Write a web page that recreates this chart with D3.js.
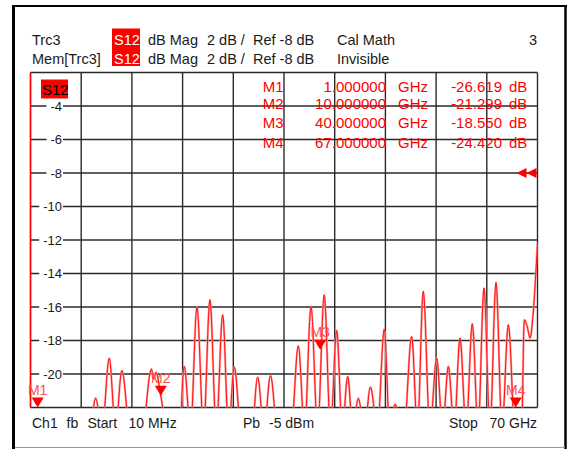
<!DOCTYPE html>
<html><head><meta charset="utf-8">
<script src="https://cdn.jsdelivr.net/npm/d3@7"></script>
<style>html,body{margin:0;padding:0;background:#fff;}svg{display:block;font-family:"Liberation Sans",Arial,sans-serif;}</style>
</head><body>
<svg id="c" width="569" height="449"></svg>
<script>
// ---------- data ----------
const startGHz = 0.01, stopGHz = 70;
const refDb = -8, dbPerDiv = 2;
const yMinDb = -22, yMaxDb = -2;
const yTickValues = [-4, -6, -8, -10, -12, -14, -16, -18, -20];
const traceGHz = [0.01, 1.0, 3.0, 5.0, 7.0, 8.3, 9.0, 9.9, 10.88, 11.75, 12.62, 13.6, 14.5, 15.6, 16.71, 17.0, 17.33, 18.0, 18.8,
  20.3, 21.23, 22.1, 22.99, 23.9, 24.78, 25.66, 26.54, 27.35, 28.14, 29.0, 30.2, 31.37, 32.25, 33.14, 34.0, 35.1, 36.1,
  36.98, 37.85, 38.73, 39.65, 40.56, 41.42, 42.28, 43.05, 43.8, 44.5, 45.26, 46.1, 46.94, 47.9, 48.85, 49.6, 50.33, 51.5,
  52.63, 53.43, 54.23, 55.15, 56.08, 56.9, 57.69, 58.5, 59.3, 60.15, 61.0, 61.8, 62.61, 63.44, 64.27, 65.1, 65.97, 67.0,
  67.8, 68.18, 68.6, 68.97, 69.38, 69.7, 70.0];
const traceDb = [-27, -26.6, -28, -27, -26, -23.5, -21.44, -23.3, -19.06, -23.3, -19.79, -23.5, -27, -23.5, -19.7, -20.3, -19.9, -21.3, -23.5,
  -26, -19.55, -23.3, -16.0, -23.3, -15.57, -23.3, -16.47, -23.3, -19.59, -23.5, -26, -20.19, -23.3, -20.1, -23.5, -27, -23.5,
  -18.32, -23.3, -15.97, -23.3, -15.27, -23.3, -17.4, -23.3, -20.15, -23.3, -21.44, -23.3, -20.78, -23.3, -17.32, -23.3, -21.8, -23.8,
  -17.76, -23.3, -15.07, -23.3, -19.05, -23.3, -19.55, -23.3, -17.86, -23.3, -17.0, -23.3, -14.87, -23.3, -14.54, -23.3, -17.06, -24.42,
  -23.5, -16.76, -17.2, -17.86, -16.5, -14.5, -12.19];
const markerNames = ["M1", "M2", "M3", "M4"];
const markerFreqText = ["1.000000", "10.000000", "40.000000", "67.000000"];
const markerDb = [-26.619, -21.299, -18.550, -24.420];
const markerPlotGHz = [1.0, 18.0, 40.0, 67.0];

// ---------- layout ----------
const svg = d3.select("#c");
const PL = 30.5, PR = 537.5, PT = 72.5, PB = 407.5;
const x = d3.scaleLinear().domain([startGHz, stopGHz]).range([PL, PR]);
const y = d3.scaleLinear().domain([yMinDb, yMaxDb]).range([PB, PT]);
const ink = "#1a1a1a", red = "#ff0000";

// outer window frame
svg.append("rect").attr("x", 0).attr("y", 0).attr("width", 569).attr("height", 449).attr("fill", "#fff");
svg.append("line").attr("x1", 12).attr("x2", 567).attr("y1", 6).attr("y2", 6).attr("stroke", "#000").attr("stroke-width", 2);
svg.append("line").attr("x1", 13.5).attr("x2", 13.5).attr("y1", 5).attr("y2", 449).attr("stroke", "#000").attr("stroke-width", 3);
svg.append("line").attr("x1", 565.5).attr("x2", 565.5).attr("y1", 5).attr("y2", 449).attr("stroke", "#000").attr("stroke-width", 2.5);
svg.append("line").attr("x1", 15).attr("x2", 565).attr("y1", 447.5).attr("y2", 447.5).attr("stroke", "#999").attr("stroke-width", 1);

// header
svg.append("rect").attr("x", 112).attr("y", 28.5).attr("width", 28).attr("height", 37.5).attr("fill", red);
const hdr = svg.append("g").attr("font-size", 14.5).attr("fill", ink);
const rows = [45, 63.5];
hdr.append("text").attr("x", 32).attr("y", rows[0]).text("Trc3");
hdr.append("text").attr("x", 32).attr("y", rows[1]).text("Mem[Trc3]");
rows.forEach((r, i) => {
  hdr.append("text").attr("x", 114).attr("y", r).attr("fill", "#fff").text("S12");
  hdr.append("text").attr("x", 148).attr("y", r).text("dB Mag");
  hdr.append("text").attr("x", 207).attr("y", r).text("2 dB /");
  hdr.append("text").attr("x", 253).attr("y", r).text("Ref -8 dB");
  hdr.append("text").attr("x", 337).attr("y", r).text(i === 0 ? "Cal Math" : "Invisible");
});
hdr.append("text").attr("x", 537).attr("y", rows[0]).attr("text-anchor", "end").text("3");

// grid
const grid = svg.append("g").attr("stroke", "#2a2a2a").attr("stroke-width", 1.4);
d3.range(11).forEach(i => {
  const f = startGHz + i * (stopGHz - startGHz) / 10;
  grid.append("line").attr("x1", x(f)).attr("x2", x(f)).attr("y1", PT).attr("y2", PB);
});
d3.range(yMinDb, yMaxDb + 0.001, dbPerDiv).forEach(v => {
  grid.append("line").attr("x1", PL).attr("x2", PR).attr("y1", y(v)).attr("y2", y(v));
});
svg.append("line").attr("x1", PL).attr("x2", PL).attr("y1", PT).attr("y2", PB).attr("stroke", red).attr("stroke-width", 1.3);

// y labels
const yl = svg.append("g").attr("font-size", 13).attr("fill", ink);
yTickValues.forEach(v => {
  const t = yl.append("text").attr("x", 62).attr("y", y(v) + 4.6).attr("text-anchor", "end").text(v);
  const w = t.node().getComputedTextLength();
  yl.insert("rect", "text").attr("x", 62 - w - 4).attr("y", y(v) - 6).attr("width", w + 5).attr("height", 12).attr("fill", "#fff");
});

// S12 tag in plot
svg.append("rect").attr("x", 41).attr("y", 79.5).attr("width", 27).attr("height", 19).attr("fill", red);
svg.append("text").attr("x", 42).attr("y", 94.5).attr("font-size", 15).attr("fill", "#000").text("S12");

// trace
svg.append("clipPath").attr("id", "clip").append("rect").attr("x", PL).attr("y", PT).attr("width", PR - PL).attr("height", PB - PT);
const pts = traceGHz.map((f, i) => [f, traceDb[i]]);
const line = d3.line().x(d => x(d[0])).y(d => y(d[1])).curve(d3.curveMonotoneX);
const tg = svg.append("g").attr("clip-path", "url(#clip)");
tg.append("path").attr("d", line(pts)).attr("fill", "none").attr("stroke", "#ff9a9a").attr("stroke-width", 2.2);
tg.append("path").attr("d", line(pts)).attr("fill", "none").attr("stroke", red).attr("stroke-width", 0.9);

// markers on trace
const mg = svg.append("g").attr("fill", red);
markerNames.forEach((m, i) => {
  const mx = x(markerPlotGHz[i]);
  const my = Math.min(y(markerDb[i]), PB);
  mg.append("path").attr("d", `M${mx - 6},${my - 10}L${mx + 6},${my - 10}L${mx},${my}Z`);
  mg.append("text").attr("x", mx).attr("y", my - 13).attr("text-anchor", "middle").attr("font-size", 14)
    .attr("fill", "#ff5050").text(m);
});

// marker table
const mt = svg.append("g").attr("font-size", 15).attr("fill", red);
const tRows = [91.5, 108.5, 128, 148];
markerNames.forEach((m, i) => {
  mt.append("text").attr("x", 283.5).attr("y", tRows[i]).attr("text-anchor", "end").text(m);
  mt.append("text").attr("x", 386).attr("y", tRows[i]).attr("text-anchor", "end").text(markerFreqText[i]);
  mt.append("text").attr("x", 398).attr("y", tRows[i]).text("GHz");
  mt.append("text").attr("x", 502).attr("y", tRows[i]).attr("text-anchor", "end").text(markerDb[i].toFixed(3));
  mt.append("text").attr("x", 509).attr("y", tRows[i]).text("dB");
});

// reference arrow
const ry = y(refDb);
svg.append("path").attr("fill", red)
  .attr("d", `M${PR - 21},${ry}L${PR - 11},${ry - 5}L${PR - 11},${ry + 5}Z M${PR - 11},${ry}L${PR - 1},${ry - 5}L${PR - 1},${ry + 5}Z`);

// footer
const ft = svg.append("g").attr("font-size", 14).attr("fill", ink);
ft.append("text").attr("x", 32).attr("y", 428).text("Ch1");
ft.append("text").attr("x", 66.5).attr("y", 428).text("fb");
ft.append("text").attr("x", 87.5).attr("y", 428).text("Start");
ft.append("text").attr("x", 128.5).attr("y", 428).text("10 MHz");
ft.append("text").attr("x", 243).attr("y", 428).text("Pb");
ft.append("text").attr("x", 269).attr("y", 428).text("-5 dBm");
ft.append("text").attr("x", 449).attr("y", 428).text("Stop");
ft.append("text").attr("x", 537).attr("y", 428).attr("text-anchor", "end").text("70 GHz");
</script>
</body></html>
